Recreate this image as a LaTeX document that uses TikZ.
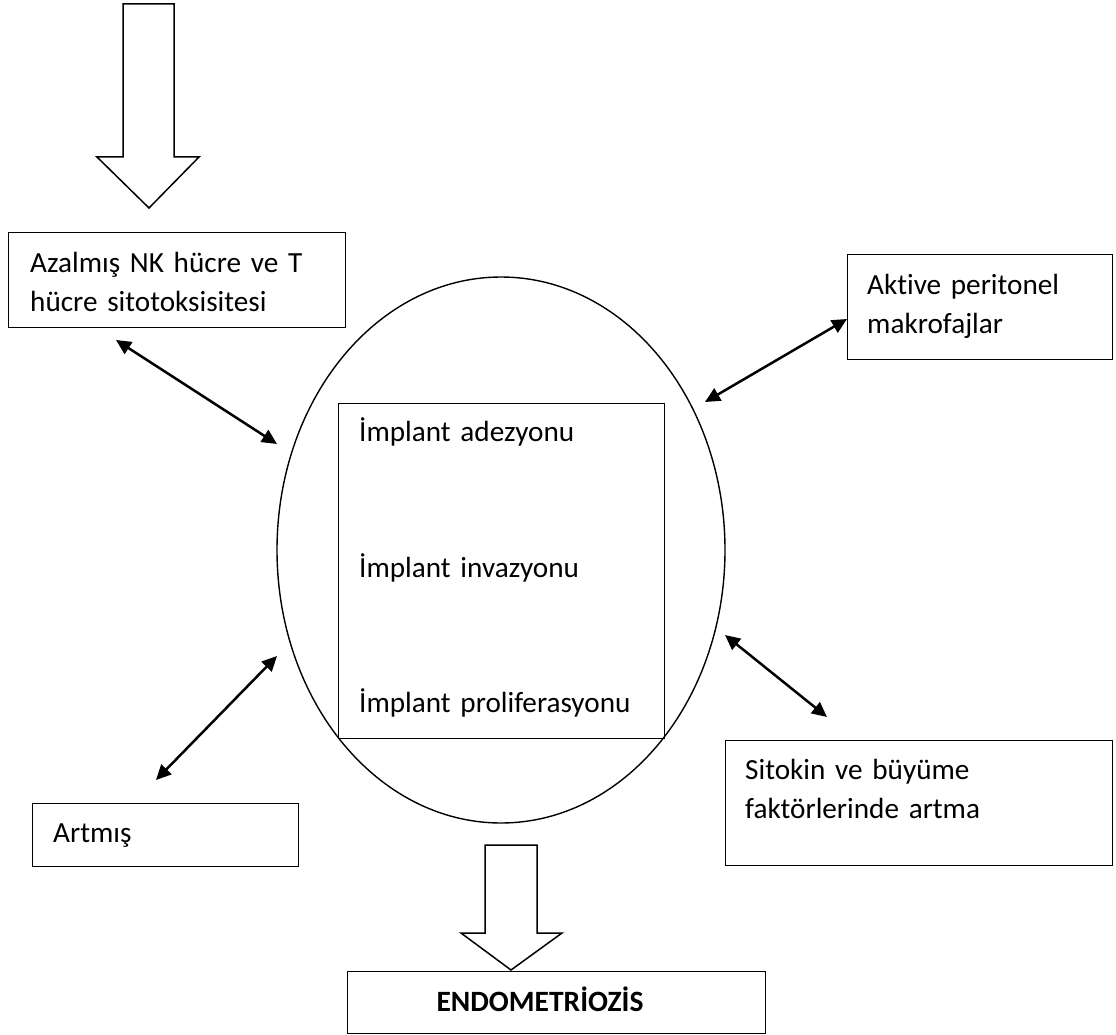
\documentclass[tikz,border=0pt]{standalone}
\usepackage{fontspec}
\setmainfont{Carlito}[Ligatures=NoCommon, WordSpace=0.8]
\usetikzlibrary{shapes.geometric,arrows.meta}
\begin{document}
\begin{tikzpicture}[x=1pt,y=-1pt,
  box/.style={draw, line width=1.4pt, rectangle, anchor=north west, inner sep=0pt},
  txt/.style={anchor=base west, inner sep=0pt, align=left, text width=400pt, font=\fontsize{29.2}{39}\selectfont},
  dbl/.style={{Triangle[length=15pt,width=14pt]}-{Triangle[length=15pt,width=14pt]}, line width=2.5pt},
  blockarrow/.style={draw, line width=1.5pt, line join=miter, fill=white}]
\useasboundingbox[fill=white] (0,0) rectangle (1116,1035);

% block arrows
\draw[blockarrow] (123,4) -- (174,4) -- (174,157) -- (199,157) -- (149,208) -- (97,157) -- (123,157) -- cycle;
\draw[blockarrow] (485,845) -- (537,845) -- (537,933) -- (562,933) -- (511,970) -- (461,933) -- (485,933) -- cycle;

% boxes
\node[box, minimum width=337pt, minimum height=95pt] (azalmis) at (8,232) {};
\node[box, minimum width=265pt, minimum height=105pt] (aktive) at (847,254) {};
\node[draw, ellipse, line width=1.4pt, inner sep=0pt, minimum width=448pt, minimum height=546pt] (cell) at (501,550) {};
\node[box, minimum width=326pt, minimum height=335pt] (implant) at (338,403) {};
\node[box, minimum width=266pt, minimum height=63pt] (artmis) at (32,803) {};
\node[box, minimum width=387pt, minimum height=125pt] (sitokin) at (725,740) {};
\node[box, minimum width=418pt, minimum height=62pt] (endo) at (347,971) {};

% texts
\node[txt] (tazal) at (30,272) {Azalmış NK hücre ve T\\hücre sitotoksisitesi};
\node[txt] (takt) at (867,294) {Aktive peritonel\\makrofajlar};
\node[txt] (timp1) at (359,441) {İmplant adezyonu};
\node[txt] (timp2) at (359,577) {İmplant invazyonu};
\node[txt] (timp3) at (359,712) {İmplant proliferasyonu};
\node[txt] (tart) at (53,842) {Artmış};
\node[txt] (tsit) at (745,779) {Sitokin ve büyüme\\faktörlerinde artma};
\node[anchor=base, inner sep=0pt, font=\fontsize{29.5}{34}\selectfont\bfseries] (tendo) at (540,1011) {ENDOMETRİOZİS};

% double arrows
\coordinate (a1s) at (116,340); \coordinate (a1e) at (277,444);
\coordinate (a2s) at (847,319); \coordinate (a2e) at (705,402);
\coordinate (a3s) at (277,656); \coordinate (a3e) at (156,780);
\coordinate (a4s) at (725,635); \coordinate (a4e) at (827,717);
\draw[dbl] (a1s) -- (a1e);
\draw[dbl] (a2s) -- (a2e);
\draw[dbl] (a3s) -- (a3e);
\draw[dbl] (a4s) -- (a4e);
\end{tikzpicture}
\end{document}
